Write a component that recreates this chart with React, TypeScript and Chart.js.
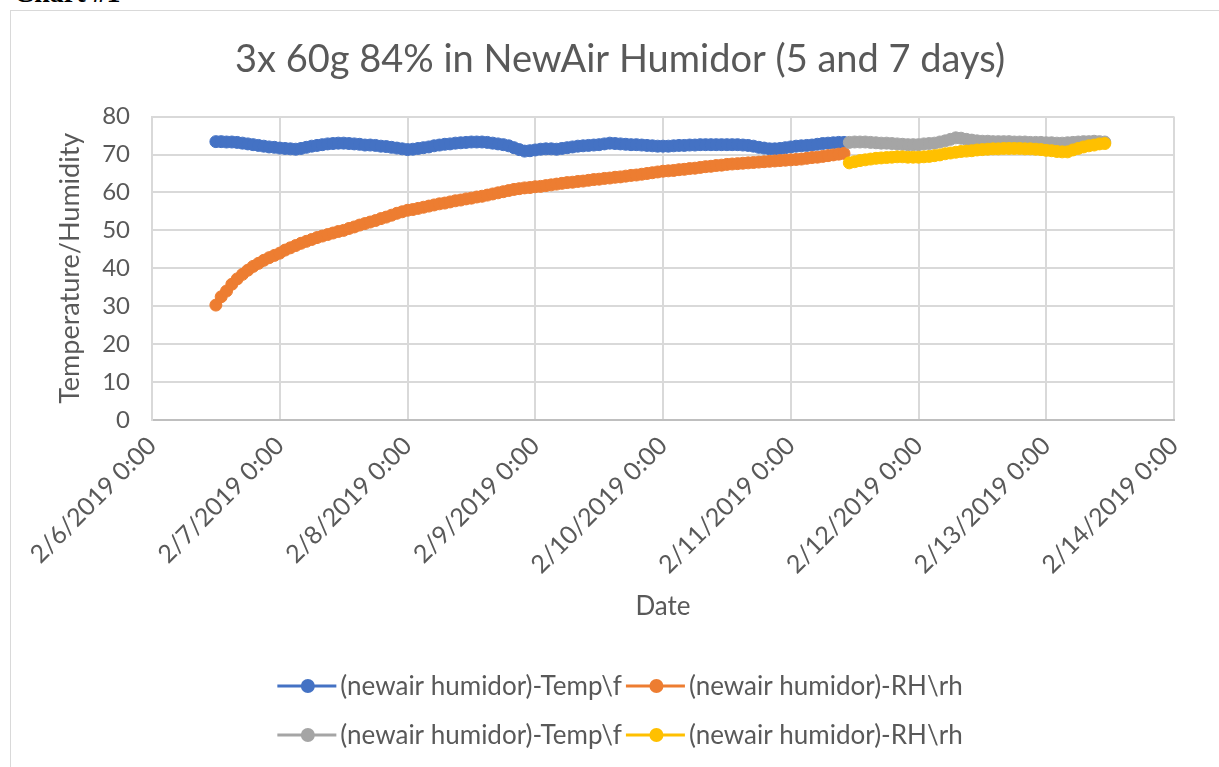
import React, { useEffect, useRef } from 'react';
import { Chart, registerables } from 'chart.js';

Chart.register(...registerables);

const chartTitle = '3x 60g 84% in NewAir Humidor (5 and 7 days)';
const yAxisTitle = 'Temperature/Humidity';
const xAxisTitle = 'Date';
const xTickLabels = [
  '2/6/2019 0:00', '2/7/2019 0:00', '2/8/2019 0:00', '2/9/2019 0:00', '2/10/2019 0:00',
  '2/11/2019 0:00', '2/12/2019 0:00', '2/13/2019 0:00', '2/14/2019 0:00',
];
const yTickValues = [0, 10, 20, 30, 40, 50, 60, 70, 80];

const seriesNames = [
  '(newair humidor)-Temp\\f',
  '(newair humidor)-RH\\rh',
  '(newair humidor)-Temp\\f',
  '(newair humidor)-RH\\rh',
];
const seriesColors = ['#4472C4', '#ED7D31', '#A5A5A5', '#FFC000'];

// Hourly readings; time in hours since 2/6/2019 0:00
const run1StartHour = 12;
const run2StartHour = 131;
const sampleStepHours = 1;

const run1Temp = [
  73.4, 73.4, 73.3, 73.3, 73.2, 73.0, 72.8, 72.6, 72.4, 72.2,
  72.0, 71.9, 71.7, 71.6, 71.5, 71.4, 71.6, 71.9, 72.2, 72.4,
  72.6, 72.8, 72.9, 73.0, 73.0, 72.9, 72.8, 72.7, 72.5, 72.5,
  72.4, 72.2, 72.1, 71.9, 71.7, 71.5, 71.3, 71.4, 71.6, 71.8,
  72.0, 72.3, 72.5, 72.7, 72.8, 73.0, 73.1, 73.2, 73.3, 73.3,
  73.3, 73.2, 73.0, 72.8, 72.6, 72.3, 71.8, 71.3, 70.9, 71.0,
  71.2, 71.4, 71.5, 71.5, 71.4, 71.6, 71.8, 72.0, 72.2, 72.3,
  72.4, 72.5, 72.6, 72.8, 73.0, 72.9, 72.8, 72.7, 72.6, 72.6,
  72.5, 72.4, 72.3, 72.2, 72.2, 72.2, 72.3, 72.4, 72.4, 72.5,
  72.5, 72.6, 72.6, 72.6, 72.6, 72.6, 72.6, 72.6, 72.6, 72.5,
  72.4, 72.2, 71.9, 71.7, 71.5, 71.5, 71.6, 71.8, 72.0, 72.2,
  72.3, 72.4, 72.5, 72.7, 72.9, 73.0, 73.1, 73.2, 73.2,
];
const run1RH = [
  30.3, 32.5, 34.0, 35.8, 37.2, 38.4, 39.5, 40.5, 41.3, 42.1,
  42.8, 43.4, 44.0, 44.8, 45.4, 46.0, 46.6, 47.1, 47.6, 48.1,
  48.5, 48.9, 49.3, 49.7, 50.0, 50.5, 50.9, 51.4, 51.8, 52.2,
  52.6, 53.1, 53.5, 54.0, 54.5, 54.9, 55.3, 55.5, 55.8, 56.1,
  56.4, 56.7, 57.0, 57.2, 57.5, 57.8, 58.0, 58.3, 58.5, 58.8,
  59.0, 59.3, 59.6, 59.9, 60.2, 60.5, 60.8, 61.0, 61.2, 61.3,
  61.5, 61.6, 61.8, 62.0, 62.2, 62.4, 62.6, 62.7, 62.9, 63.0,
  63.2, 63.4, 63.5, 63.7, 63.8, 64.0, 64.1, 64.3, 64.5, 64.6,
  64.8, 65.0, 65.2, 65.4, 65.6, 65.7, 65.8, 66.0, 66.1, 66.3,
  66.4, 66.6, 66.8, 66.9, 67.1, 67.2, 67.4, 67.5, 67.6, 67.7,
  67.8, 67.9, 68.0, 68.1, 68.2, 68.3, 68.4, 68.5, 68.6, 68.7,
  68.8, 69.0, 69.2, 69.3, 69.5, 69.7, 69.9, 70.1, 70.3,
];
const run2Temp = [
  73.2, 73.3, 73.3, 73.3, 73.2, 73.1, 73.0, 73.0, 72.9, 72.8,
  72.7, 72.6, 72.6, 72.6, 72.8, 72.9, 73.0, 73.3, 73.6, 74.0,
  74.4, 74.3, 74.0, 73.8, 73.6, 73.5, 73.5, 73.4, 73.4, 73.4,
  73.4, 73.3, 73.3, 73.3, 73.2, 73.2, 73.2, 73.1, 73.1, 73.0,
  73.0, 73.1, 73.2, 73.3, 73.4, 73.4, 73.5, 73.4, 73.3,
];
const run2RH = [
  67.8, 68.1, 68.4, 68.6, 68.8, 69.0, 69.1, 69.2, 69.3, 69.4,
  69.4, 69.3, 69.3, 69.3, 69.4, 69.5, 69.7, 69.9, 70.2, 70.4,
  70.6, 70.8, 70.9, 71.0, 71.2, 71.3, 71.4, 71.5, 71.5, 71.6,
  71.6, 71.6, 71.6, 71.5, 71.5, 71.4, 71.3, 71.1, 71.0, 70.8,
  70.7, 70.7, 71.2, 71.6, 72.0, 72.3, 72.5, 72.8, 72.9,
];

const textColor = '#595959';
const gridColor = '#D9D9D9';
const fontFamily = 'Lato, "Open Sans", sans-serif';

function toPoints(startHour: number, values: number[]) {
  return values.map((v, i) => ({ x: startHour + i * sampleStepHours, y: v }));
}

const legendPlugin = {
  id: 'excelLegend',
  afterDraw(chart: any) {
    const ctx = chart.ctx as CanvasRenderingContext2D;
    const rows = [[0, 1], [2, 3]];
    const rowY = [675, 724];
    const lineLen = 59;
    const gapAfterLine = 4;
    const gapBetween = 4;
    ctx.save();
    ctx.font = `26px ${fontFamily}`;
    ctx.textBaseline = 'middle';
    ctx.textAlign = 'left';
    const center = chart.width / 2;
    rows.forEach((row, r) => {
      const widths = row.map((i) => lineLen + gapAfterLine + ctx.measureText(seriesNames[i]).width);
      const total = widths.reduce((a, b) => a + b, 0) + gapBetween * (row.length - 1);
      let x = center - total / 2;
      const y = rowY[r];
      row.forEach((i, k) => {
        ctx.strokeStyle = seriesColors[i];
        ctx.lineWidth = 3;
        ctx.beginPath();
        ctx.moveTo(x, y);
        ctx.lineTo(x + lineLen, y);
        ctx.stroke();
        ctx.fillStyle = seriesColors[i];
        ctx.beginPath();
        ctx.arc(x + lineLen / 2 + 1, y, 7, 0, Math.PI * 2);
        ctx.fill();
        ctx.fillStyle = textColor;
        ctx.fillText(seriesNames[i], x + lineLen + gapAfterLine, y + 1);
        x += widths[k] + gapBetween;
      });
    });
    ctx.restore();
  },
};

export default function App() {
  const canvasRef = useRef<HTMLCanvasElement | null>(null);

  useEffect(() => {
    const canvas = canvasRef.current;
    if (!canvas) return;
    const seriesData = [
      toPoints(run1StartHour, run1Temp),
      toPoints(run1StartHour, run1RH),
      toPoints(run2StartHour, run2Temp),
      toPoints(run2StartHour, run2RH),
    ];
    const chart = new Chart(canvas, {
      type: 'line',
      data: {
        datasets: seriesData.map((d, i) => ({
          label: seriesNames[i],
          data: d,
          borderColor: seriesColors[i],
          backgroundColor: seriesColors[i],
          pointBackgroundColor: seriesColors[i],
          pointBorderColor: seriesColors[i],
          pointRadius: 6,
          pointBorderWidth: 1,
          borderWidth: 3,
          tension: 0,
          fill: false,
          order: 4 - i,
        })),
      },
      options: {
        responsive: false,
        animation: false,
        events: [],
        layout: { padding: { left: 55, right: 55, top: 0, bottom: 0 } },
        plugins: {
          legend: { display: false },
          tooltip: { enabled: false },
          title: {
            display: true,
            text: chartTitle,
            color: textColor,
            font: { family: fontFamily, size: 38, weight: 'normal' },
            padding: { top: 26, bottom: 34 },
          },
        },
        scales: {
          x: {
            type: 'linear',
            min: 0,
            max: 192,
            ticks: {
              stepSize: 24,
              autoSkip: false,
              minRotation: 45,
              maxRotation: 45,
              padding: 11,
              color: textColor,
              font: { family: fontFamily, size: 25 },
              callback: (v: any) => xTickLabels[Math.round(Number(v) / 24)] ?? '',
            },
            grid: { color: gridColor, lineWidth: 2, drawTicks: false },
            border: { color: '#BFBFBF', width: 2 },
            title: {
              display: true,
              text: xAxisTitle,
              color: textColor,
              font: { family: fontFamily, size: 26 },
              padding: { top: 0, bottom: 145 },
            },
            afterFit: (s: any) => {
              s.height = 347;
            },
          },
          y: {
            min: 0,
            max: 80,
            afterBuildTicks: (s: any) => {
              s.ticks = yTickValues.map((v) => ({ value: v }));
            },
            ticks: {
              padding: 22,
              color: textColor,
              font: { family: fontFamily, size: 24 },
            },
            grid: { color: gridColor, lineWidth: 2, drawTicks: false },
            border: { color: gridColor, width: 2 },
            title: {
              display: true,
              text: yAxisTitle,
              color: textColor,
              font: { family: fontFamily, size: 27 },
              padding: { top: -12, bottom: 0 },
            },
            afterFit: (s: any) => {
              s.width = 86;
            },
          },
        },
      },
      plugins: [legendPlugin],
    });
    return () => chart.destroy();
  }, []);

  return (
    <div style={{ position: 'absolute', left: 0, top: 0, width: 1219, height: 767, overflow: 'hidden', background: '#fff' }}>
      <div
        style={{
          position: 'absolute',
          left: 14,
          top: -21,
          font: 'bold 28px "Liberation Serif", serif',
          lineHeight: '28px',
          color: '#000',
          whiteSpace: 'nowrap',
        }}
      >
        Chart #1
      </div>
      <div
        style={{
          position: 'absolute',
          left: 10,
          top: 10,
          width: 1218,
          height: 770,
          border: '1px solid #D9D9D9',
          background: '#fff',
        }}
      >
        <canvas ref={canvasRef} width={1218} height={756} style={{ display: 'block', width: 1218, height: 756 }} />
      </div>
    </div>
  );
}
